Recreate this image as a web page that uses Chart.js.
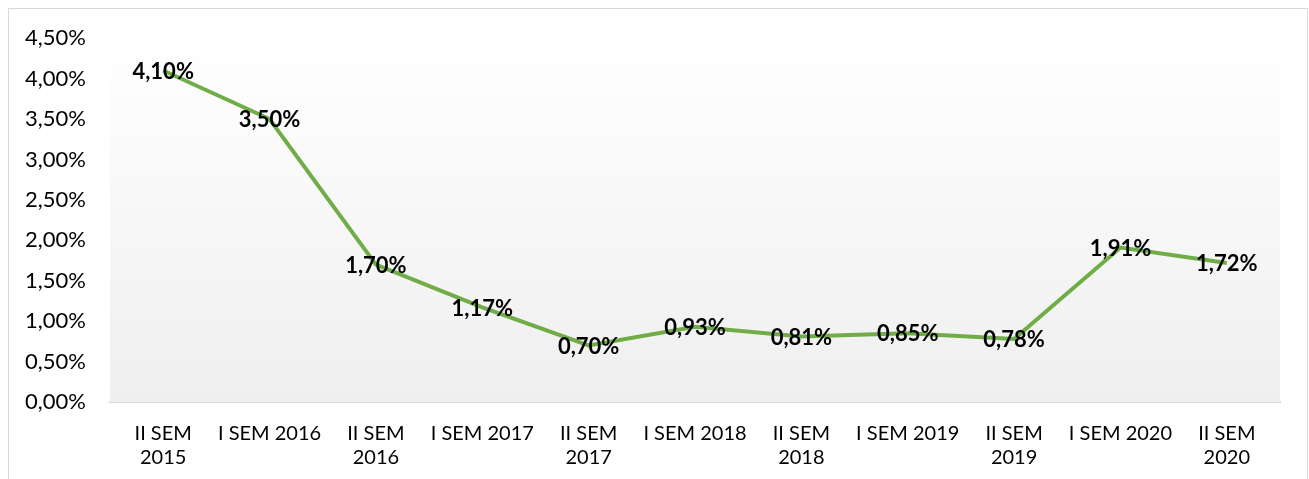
<!DOCTYPE html>
<html>
<head>
<meta charset="utf-8">
<script src="https://cdn.jsdelivr.net/npm/chart.js@4.4.1/dist/chart.umd.min.js"></script>
<style>
  html, body { margin: 0; padding: 0; background: #fff; }
  .frame {
    position: absolute; left: 8px; top: 8px;
    width: 1298px; height: 480px;
    border: 1px solid #d9d9d9;
  }
  .frame canvas { display: block; }
</style>
</head>
<body>
<div class="frame"><canvas id="chart" width="1298" height="470"></canvas></div>
<script>
// categories (semesters)
const categories = [
    ['II SEM', '2015'], 'I SEM 2016', ['II SEM', '2016'], 'I SEM 2017', ['II SEM', '2017'],
    'I SEM 2018', ['II SEM', '2018'], 'I SEM 2019', ['II SEM', '2019'], 'I SEM 2020', ['II SEM', '2020']
];
// values in percent
const values = [4.10, 3.50, 1.70, 1.17, 0.70, 0.93, 0.81, 0.85, 0.78, 1.91, 1.72];
const yMax = 4.5;
const yStep = 0.5;

const fmt = v => v.toFixed(2).replace('.', ',') + '%';

// gradient in plot area + value labels
const plotBg = {
    id: 'plotBg',
    beforeDatasetsDraw(chart) {
        const { ctx, chartArea: a } = chart;
        const g = ctx.createLinearGradient(0, a.top, 0, a.bottom);
        g.addColorStop(0, '#ffffff');
        g.addColorStop(1, '#efefef');
        ctx.save();
        ctx.fillStyle = g;
        ctx.fillRect(a.left, a.top, a.right - a.left, a.bottom - a.top);
        ctx.restore();
    }
};

const valueLabels = {
    id: 'valueLabels',
    afterDatasetsDraw(chart) {
        const { ctx } = chart;
        const meta = chart.getDatasetMeta(0);
        ctx.save();
        ctx.font = 'bold 22px Lato';
        ctx.fillStyle = '#000';
        ctx.textAlign = 'center';
        ctx.textBaseline = 'middle';
        meta.data.forEach((pt, i) => {
            ctx.fillText(fmt(values[i]), pt.x, pt.y + 1);
        });
        ctx.restore();
    }
};

new Chart(document.getElementById('chart'), {
    type: 'line',
    data: {
        labels: categories,
        datasets: [{
            data: values,
            borderColor: '#70ad47',
            borderWidth: 4,
            pointRadius: 0,
            tension: 0,
            fill: false
        }]
    },
    options: {
        responsive: false,
        animation: false,
        layout: { padding: { top: 12, right: 27, bottom: 0, left: 0 } },
        plugins: {
            legend: { display: false },
            tooltip: { enabled: false }
        },
        scales: {
            x: {
                offset: true,
                grid: { display: false },
                border: { color: '#d9d9d9', width: 2 },
                ticks: {
                    color: '#000',
                    font: { family: 'Lato', size: 20, lineHeight: 1.2 },
                    padding: 12,
                    maxRotation: 0,
                    autoSkip: false
                },
                afterFit(scale) { scale.height = 77; }
            },
            y: {
                min: 0,
                max: yMax,
                grid: { display: false },
                border: { display: false },
                ticks: {
                    stepSize: yStep,
                    color: '#000',
                    font: { family: 'Lato', size: 22 },
                    padding: 16,
                    callback: v => fmt(v)
                },
                afterFit(scale) { scale.width = 101; }
            }
        }
    },
    plugins: [plotBg, valueLabels]
});
</script>
</body>
</html>
